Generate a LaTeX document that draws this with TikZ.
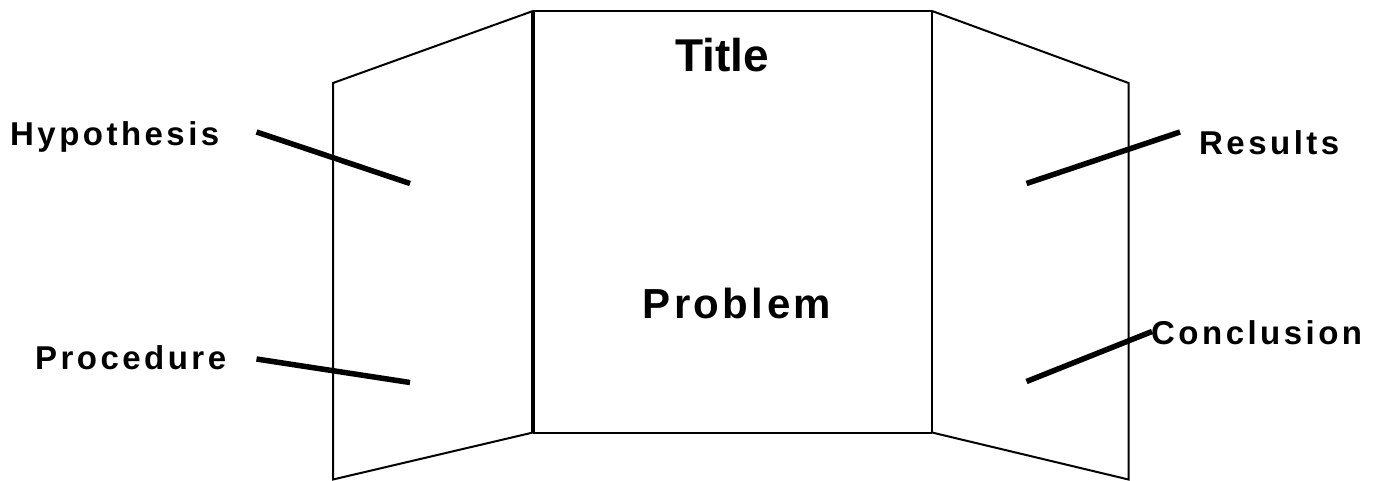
\documentclass[tikz,border=0pt]{standalone}
\usepackage{fontspec}
\setmainfont{Liberation Sans}
\newfontfamily\boardfont[LetterSpace=10.5]{Liberation Sans}
\newfontfamily\probfont[LetterSpace=8]{Liberation Sans}
\usetikzlibrary{positioning,calc}
\tikzset{
  panel/.style={line width=2pt, line join=miter},
  topedge/.style={line width=1.2pt},
  fold/.style={line width=4pt},
  lbl/.style={inner sep=0pt, anchor=base west, font=\boardfont\bfseries\fontsize{33}{38}\selectfont},
  head/.style={inner sep=0pt, anchor=base, font=\bfseries\fontsize{46}{52}\selectfont},
  mainlbl/.style={inner sep=0pt, anchor=base, font=\probfont\bfseries\fontsize{42}{48}\selectfont},
  lead/.style={line width=5.5pt}
}

\begin{document}
\begin{tikzpicture}[x=1pt,y=-1pt]
  \useasboundingbox (0,0) rectangle (1380,481);
  % board corners
  \coordinate (ltop) at (333,83);
  \coordinate (lbot) at (333,479.5);
  \coordinate (ctl) at (533,11);
  \coordinate (ctr) at (932,11);
  \coordinate (cbl) at (533,432.5);
  \coordinate (cbr) at (932,432.5);
  \coordinate (rtop) at (1128.5,83);
  \coordinate (rbot) at (1128.5,479.5);

  % left wing
  \draw[panel] (ctl) -- (ltop) -- (lbot) -- (cbl);
  % right wing
  \draw[panel] (ctr) -- (rtop) -- (rbot) -- (cbr);
  % middle
  \draw[topedge] (ctl) -- (ctr);
  \draw[panel] (cbl) -- (cbr);
  \draw[fold] (ctl) -- (cbl);
  \draw[fold, line width=2.8pt] (ctr) -- (cbr);

  % texts
  \node[head] (title) at (722,72) {Title};
  \node[mainlbl] (problem) at (737,318) {Problem};
  \node[lbl] (hyp) at (10,146) {Hypothesis};
  \node[lbl] (proc) at (35,369) {Procedure};
  \node[lbl] (res) at (1199,155) {Results};
  \node[lbl] (conc) at (1151,344) {Conclusion};

  % leader lines
  \coordinate (hypa) at (256.5,132);
  \coordinate (hypb) at (410,183.5);
  \coordinate (proca) at (256.5,359);
  \coordinate (procb) at (410,382.5);
  \coordinate (resa) at (1180,132);
  \coordinate (resb) at (1026.5,183.5);
  \coordinate (conca) at (1152,331.5);
  \coordinate (concb) at (1026.5,381.5);
  \draw[lead] (hypa) -- (hypb);
  \draw[lead] (proca) -- (procb);
  \draw[lead] (resa) -- (resb);
  \draw[lead] (conca) -- (concb);
\end{tikzpicture}
\end{document}
